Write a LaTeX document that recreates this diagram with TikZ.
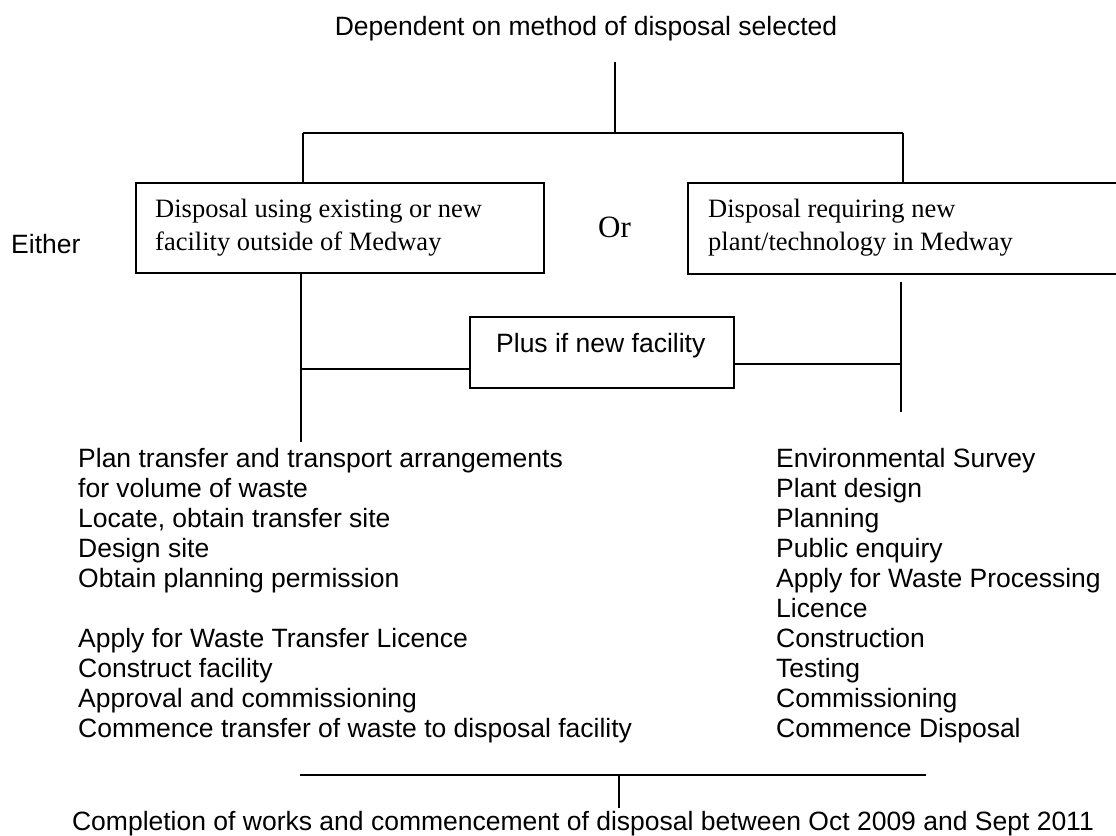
\documentclass[tikz,border=0pt]{standalone}
\usepackage{fontspec}
\setmainfont{Liberation Serif}
\newfontfamily\arialfont{Liberation Sans}
\newcommand{\stacklines}[2]{\vtop{\baselineskip=#1\relax #2}}
\begin{document}
\begin{tikzpicture}[x=1pt,y=-1pt,
  ar/.style={font=\arialfont\fontsize{26.5}{30}\selectfont, inner sep=0pt, anchor=base west},
  tm/.style={font=\fontsize{26.5}{33}\selectfont, inner sep=0pt, anchor=base west},
  boxnode/.style={draw, line width=1.8pt, inner sep=0pt, anchor=north west},
  conn/.style={line width=1.5pt},
  thinconn/.style={line width=1.1pt}]
\useasboundingbox (0,0) rectangle (1116,835);
\clip (0,0) rectangle (1116,835);
% title
\node[ar, anchor=base] (title) at (586,35) {Dependent on method of disposal selected};
% boxes
\node[boxnode, minimum width=408pt, minimum height=90pt] (lbox) at (135,182) {};
\node[boxnode, minimum width=450pt, minimum height=91pt] (rbox) at (687,182) {};
\node[tm] (ltext) at (155,217) {\stacklines{33pt}{\hbox{Disposal using existing or new}\hbox{facility outside of Medway}}};
\node[tm] (rtext) at (708,217) {\stacklines{33pt}{\hbox{Disposal requiring new}\hbox{plant/technology in Medway}}};
\node[ar] (either) at (11,253) {Either};
\node[tm, font=\fontsize{31}{36}\selectfont] (or) at (598,237) {Or};
% plus box
\node[boxnode, minimum width=264pt, minimum height=71pt] (plus) at (469,316) {};
\node[ar] (plustext) at (496,352) {Plus if new facility};
% connectors top
\coordinate (top) at (615,62);
\coordinate (split) at (615,133);
\coordinate (lj) at (303,133);
\coordinate (rj) at (903,133);
\draw[thinconn] (top) -- (split);
\draw[line width=1.8pt] (lj) -- (rj);
\draw[conn] (lj) -- (lj |- lbox.north);
\draw[conn] (rj) -- (rj |- rbox.north);
% left vertical
\coordinate (lend) at (301,442);
\draw[conn] (lend |- lbox.south) -- (lend);
\coordinate (lc) at (301,369);
\draw[conn] (lc) -- (lc -| plus.west);
% right vertical
\coordinate (rv1) at (901,282);
\coordinate (rv2) at (901,412);
\draw[conn] (rv1) -- (rv2);
\coordinate (rc) at (901,364);
\draw[conn] (plus.east |- rc) -- (rc);
% lists
\node[ar] (llist) at (78,467) {\stacklines{30pt}{%
\hbox{Plan transfer and transport arrangements}
\hbox{for volume of waste}
\hbox{Locate, obtain transfer site}
\hbox{Design site}
\hbox{Obtain planning permission}
\hbox{}
\hbox{Apply for Waste Transfer Licence}
\hbox{Construct facility}
\hbox{Approval and commissioning}
\hbox{Commence transfer of waste to disposal facility}}};
\node[ar] (rlist) at (776,467) {\stacklines{30pt}{%
\hbox{Environmental Survey}
\hbox{Plant design}
\hbox{Planning}
\hbox{Public enquiry}
\hbox{Apply for Waste Processing}
\hbox{Licence}
\hbox{Construction}
\hbox{Testing}
\hbox{Commissioning}
\hbox{Commence Disposal}}};
% bottom
\coordinate (bl) at (300,775);
\coordinate (br) at (926,775);
\coordinate (bm) at (619,775);
\coordinate (bm2) at (619,808);
\draw[conn] (bl) -- (br);
\draw[thinconn] (bm) -- (bm2);
\node[ar, anchor=base] (final) at (583,830) {Completion of works and commencement of disposal between Oct 2009 and Sept 2011};
\end{tikzpicture}
\end{document}
